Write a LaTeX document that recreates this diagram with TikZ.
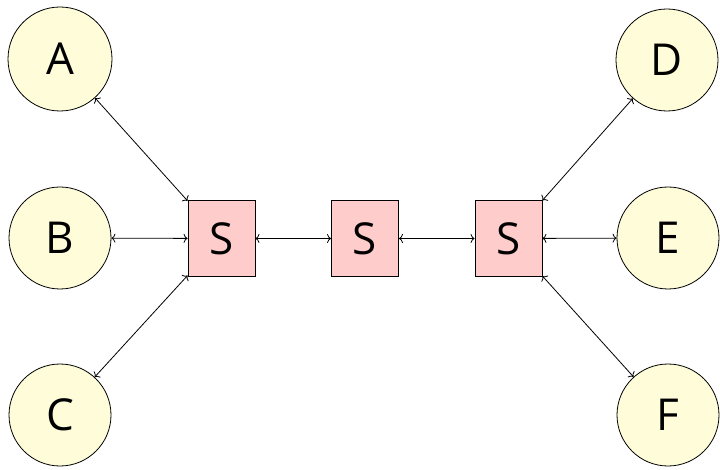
\documentclass[tikz,border=0pt]{standalone}
\usepackage{fontspec}
\setmainfont{Open Sans}
\usetikzlibrary{arrows.meta}
\begin{document}
\begin{tikzpicture}[x=1pt,y=-1pt,
  circ/.style={circle,draw,line width=0.8pt,fill=yellow!15,minimum size=102pt,inner sep=0pt,font=\fontsize{44}{50}\selectfont},
  sbox/.style={rectangle,draw,line width=0.8pt,fill=red!20,minimum width=67pt,minimum height=76pt,inner sep=0pt,font=\fontsize{44}{50}\selectfont},
  link/.style={{To[length=4pt,width=9pt]}-{To[length=4pt,width=9pt]},line width=0.8pt}]
\useasboundingbox (0,0) rectangle (720,470);
\node[circ,minimum size=104pt] (A) at (60,59) {A};
\node[circ] (B) at (60,238) {B};
\node[circ] (C) at (60,415) {C};
\node[circ] (D) at (667,60) {D};
\node[circ] (E) at (668,238) {E};
\node[circ] (F) at (668,415) {F};
\node[sbox] (S1) at (221.5,238.5) {S};
\node[sbox] (S2) at (365,238.5) {S};
\node[sbox] (S3) at (508.5,238.5) {S};
\draw[link] (A) -- (S1);
\draw[link] (B) -- (S1);
\draw[link] (C) -- (S1);
\draw[link] (S1) -- (S2);
\draw[link] (S2) -- (S3);
\draw[link] (S3) -- (D);
\draw[link] (S3) -- (E);
\draw[link] (S3) -- (F);
\end{tikzpicture}
\end{document}
